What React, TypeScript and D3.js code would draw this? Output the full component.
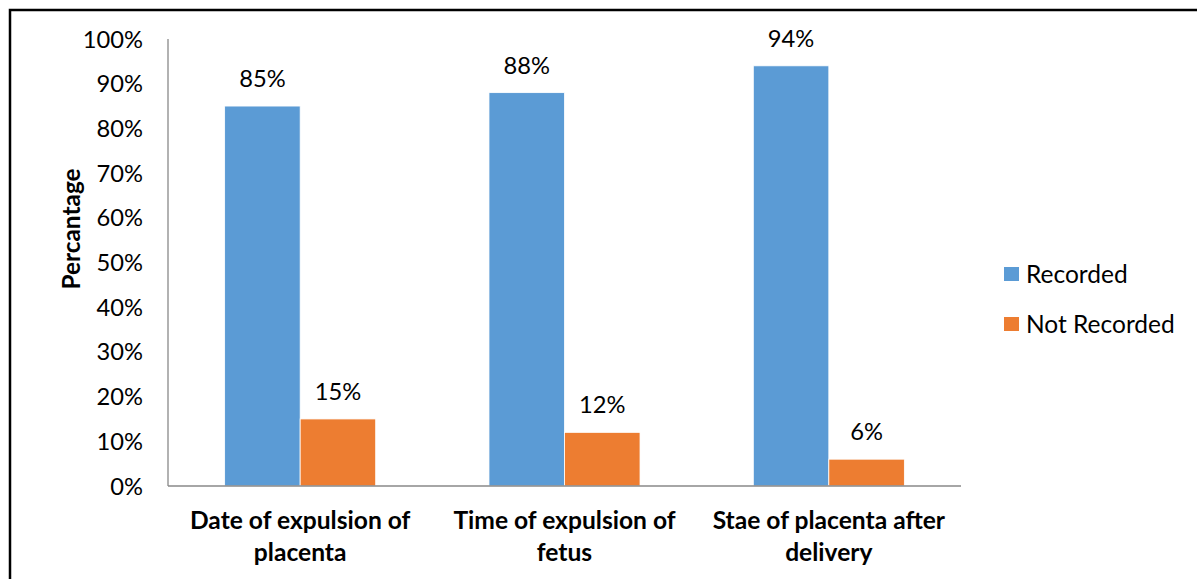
import React from "react";
import * as d3 from "d3";

const categories = [
  ["Date of expulsion of", "placenta"],
  ["Time of expulsion of", "fetus"],
  ["Stae of placenta after", "delivery"],
];
const seriesNames = ["Recorded", "Not Recorded"];
const recorded = [0.85, 0.88, 0.94];
const notRecorded = [0.15, 0.12, 0.06];
const yTicks = [0, 0.1, 0.2, 0.3, 0.4, 0.5, 0.6, 0.7, 0.8, 0.9, 1.0];
const colors = ["#5B9BD5", "#ED7D31"];

const W = 1197;
const H = 579;
const FONT = "Lato, 'Open Sans', sans-serif";

export default function App() {
  const plotLeft = 168;
  const plotRight = 961;
  const plotTop = 39;
  const plotBottom = 486;

  const x0 = d3
    .scaleBand<number>()
    .domain(d3.range(categories.length))
    .range([plotLeft, plotRight])
    .paddingInner(0)
    .paddingOuter(0);
  const band = x0.bandwidth();
  const barW = band / 3.5;
  const x1 = d3
    .scaleBand<number>()
    .domain([0, 1])
    .range([0, barW * 2]);
  const y = d3.scaleLinear().domain([0, 1]).range([plotBottom, plotTop]);
  const fmt = d3.format(".0%");

  const series = [recorded, notRecorded];

  return (
    <svg width={W} height={H} style={{ display: "block", position: "absolute", left: 0, top: 0 }}>
      <rect x={0} y={0} width={W} height={H} fill="#fff" />
      <rect x={10} y={10} width={W + 20} height={H + 20} fill="none" stroke="#000" strokeWidth={2.5} />
      {/* axes */}
      <line x1={plotLeft} x2={plotLeft} y1={plotTop} y2={plotBottom} stroke="#898989" strokeWidth={1.3} />
      {yTicks.map((t) => (
        <text
          key={t}
          x={143}
          y={y(t)}
          dy="0.36em"
          textAnchor="end"
          fontFamily={FONT}
          fontSize={23.7}
          fill="#000"
        >
          {fmt(t)}
        </text>
      ))}
      {/* bars */}
      {categories.map((c, i) => {
        const gx = (x0(i) as number) + (band - barW * 2) / 2;
        return (
          <g key={i}>
            {series.map((s, j) => {
              const bx = gx + (x1(j) as number);
              return (
                <g key={j}>
                  <rect
                    x={bx}
                    y={y(s[i])}
                    width={x1.bandwidth()}
                    height={plotBottom - y(s[i])}
                    fill={colors[j]}
                    stroke="#fff"
                    strokeWidth={0.8}
                  />
                  <text
                    x={bx + x1.bandwidth() / 2}
                    y={y(s[i]) - 19}
                    textAnchor="middle"
                    fontFamily={FONT}
                    fontSize={23.7}
                    fill="#000"
                  >
                    {fmt(s[i])}
                  </text>
                </g>
              );
            })}
            {c.map((line, k) => (
              <text
                key={k}
                x={(x0(i) as number) + band / 2}
                y={529 + k * 32}
                textAnchor="middle"
                fontFamily={FONT}
                fontWeight="bold"
                fontSize={24.6}
                fill="#000"
              >
                {line}
              </text>
            ))}
          </g>
        );
      })}
      <line x1={plotLeft} x2={plotRight} y1={plotBottom} y2={plotBottom} stroke="#898989" strokeWidth={1.3} />
      {/* y title */}
      <text
        transform={`translate(80,229) rotate(-90)`}
        textAnchor="middle"
        fontFamily={FONT}
        fontWeight="bold"
        fontSize={24.4}
        fill="#000"
      >
        Percantage
      </text>
      {/* legend */}
      {seriesNames.map((n, j) => (
        <g key={n} transform={`translate(1004, ${274 + j * 50})`}>
          <rect x={0} y={-7} width={15} height={14} fill={colors[j]} />
          <text x={22} y={0} dy="0.36em" fontFamily={FONT} fontSize={24.5} fill="#000">
            {n}
          </text>
        </g>
      ))}
    </svg>
  );
}
